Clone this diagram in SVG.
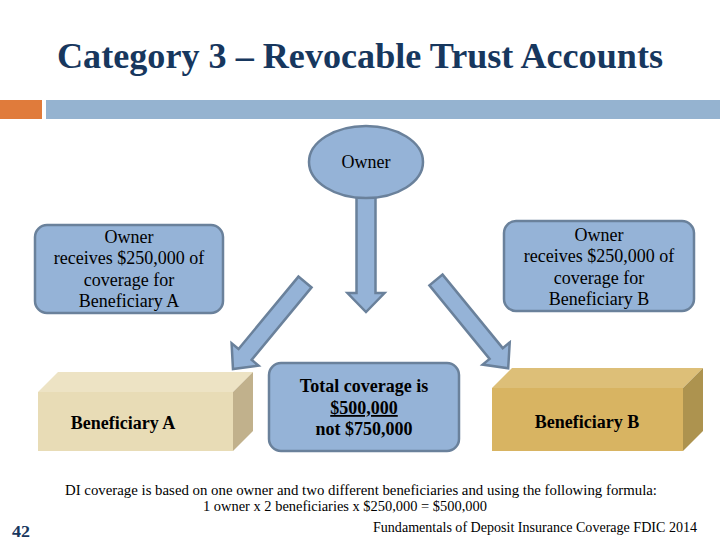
<svg xmlns="http://www.w3.org/2000/svg" width="720" height="540" viewBox="0 0 720 540">
<style>
text{font-family:"Liberation Serif","Times New Roman",serif}
.t{fill:#000;text-anchor:middle;font-size:18px}
.b{font-weight:bold}
.node{fill:#95b3d7;stroke:#6a819b;stroke-width:2.5}
.arrow{fill:#95b3d7;stroke:#6a819b;stroke-width:2.5;stroke-linejoin:miter}
</style>
<rect width="720" height="540" fill="#fff"/>
<text x="360" y="68" font-weight="bold" font-size="35" fill="#17375e" text-anchor="middle" textLength="606" lengthAdjust="spacingAndGlyphs">Category 3 – Revocable Trust Accounts</text>
<rect x="0" y="100" width="42" height="19" fill="#e07b3b"/>
<rect x="46" y="100" width="674" height="19" fill="#95b3d0"/>

<g id="connectors">
<path class="arrow" transform="translate(366,190) rotate(90)" d="M0,-9.5 L103,-9.5 L103,-18.5 L122,0 L103,18.5 L103,9.5 L0,9.5 Z"/>
<path class="arrow" transform="translate(305,282) rotate(129.6)" d="M0,-8.5 L94,-8.5 L94,-17.5 L113,0 L94,17.5 L94,8.5 L0,8.5 Z"/>
<path class="arrow" transform="translate(436,280) rotate(50.7)" d="M0,-8.5 L95,-8.5 L95,-17.5 L114,0 L95,17.5 L95,8.5 L0,8.5 Z"/>
</g>

<g id="owner">
<ellipse class="node" cx="366" cy="162" rx="57" ry="36"/>
<text class="t" x="366" y="168">Owner</text>
</g>

<g id="coverageA">
<rect class="node" x="35" y="225" width="188" height="88" rx="12"/>
<text class="t" x="129" y="243">Owner</text>
<text class="t" x="129" y="264">receives $250,000 of</text>
<text class="t" x="129" y="286">coverage for</text>
<text class="t" x="129" y="307">Beneficiary A</text>
</g>

<g id="coverageB">
<rect class="node" x="504" y="221" width="190" height="90" rx="12"/>
<text class="t" x="599" y="241">Owner</text>
<text class="t" x="599" y="262">receives $250,000 of</text>
<text class="t" x="599" y="284">coverage for</text>
<text class="t" x="599" y="305">Beneficiary B</text>
</g>

<g id="total">
<rect class="node" x="269" y="363" width="190" height="88" rx="12"/>
<text class="t b" x="364" y="392">Total coverage is</text>
<text class="t b" x="364" y="414" text-decoration="underline">$500,000</text>
<text class="t b" x="364" y="435">not $750,000</text>
</g>

<g id="beneficiaryA">
<polygon points="38,392 58,372 253,372 233,392" fill="#ede3c4"/>
<polygon points="233,392 253,372 253,431 233,451" fill="#c1b18c"/>
<rect x="38" y="392" width="195" height="59" fill="#e8dcb6"/>
<text class="t b" x="123" y="429">Beneficiary A</text>
</g>

<g id="beneficiaryB">
<polygon points="492,388 512,368 703,368 683,388" fill="#ddbf78"/>
<polygon points="683,388 703,368 703,431 683,451" fill="#ad934f"/>
<rect x="492" y="388" width="191" height="63" fill="#d8b462"/>
<text class="t b" x="587" y="428">Beneficiary B</text>
</g>

<text x="361" y="495" font-size="15" text-anchor="middle" textLength="592" lengthAdjust="spacingAndGlyphs">DI coverage is based on one owner and two different beneficiaries and using the following formula:</text>
<text x="345" y="511" font-size="15" text-anchor="middle" textLength="284" lengthAdjust="spacingAndGlyphs">1 owner x 2 beneficiaries x $250,000 = $500,000</text>
<text x="697" y="532" font-size="15" text-anchor="end" textLength="324" lengthAdjust="spacingAndGlyphs">Fundamentals of Deposit Insurance Coverage FDIC 2014</text>
<text x="12" y="537" font-size="17" font-weight="bold" fill="#17375e" textLength="18" lengthAdjust="spacingAndGlyphs">42</text>
</svg>
